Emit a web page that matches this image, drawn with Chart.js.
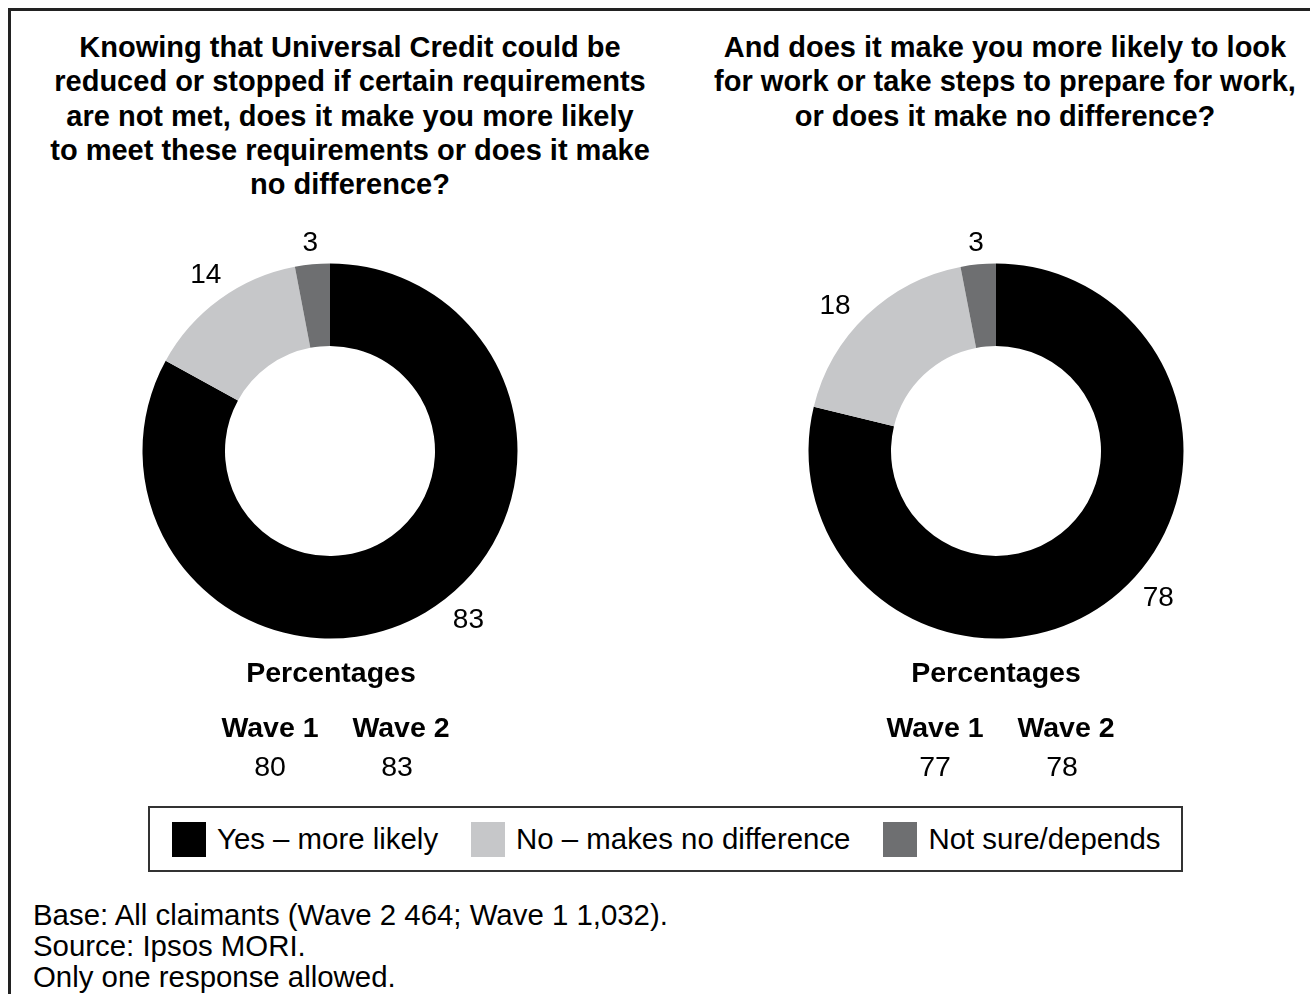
<!DOCTYPE html>
<html>
<head>
<meta charset="utf-8">
<script src="https://cdn.jsdelivr.net/npm/chart.js@4.4.1/dist/chart.umd.min.js"></script>
<style>
  body { margin: 0; background: #fff; font-family: "Liberation Sans", Arial, sans-serif; color: #000; }
  #page { position: relative; width: 1310px; height: 994px; overflow: hidden; }
  #frame { position: absolute; left: 8px; top: 8px; right: -10px; bottom: -10px;
           border-top: 3px solid #222; border-left: 3px solid #222; }
  .title { position: absolute; font-weight: bold; font-size: 29px; line-height: 34.3px;
           text-align: center; white-space: nowrap; }
  .donut { position: absolute; }
  .txt { position: absolute; white-space: nowrap; transform: translate(-50%, -50%); }
  .bold { font-weight: bold; }
  #legend { position: absolute; left: 148px; top: 806px; width: 1009px; height: 62px;
            border: 2px solid #333; display: flex; align-items: center; padding-left: 22px;
            box-sizing: content-box; font-size: 29.4px; white-space: nowrap; }
  #legend .item { display: flex; align-items: center; margin-right: 33px; flex-shrink: 0; }
  #legend .sw { width: 34px; height: 35px; margin-right: 11px; flex-shrink: 0; }
  #notes { position: absolute; left: 33px; top: 899px; font-size: 29.4px; line-height: 31px; }
</style>
</head>
<body>
<div id="page">
  <div id="frame"></div>

  <div class="title" style="left:30px; width:640px; top:30px;">
    Knowing that Universal Credit could be<br>
    reduced or stopped if certain requirements<br>
    are not met, does it make you more likely<br>
    to meet these requirements or does it make<br>
    no difference?
  </div>
  <div class="title" style="left:705px; width:600px; top:30px;">
    And does it make you more likely to look<br>
    for work or take steps to prepare for work,<br>
    or does it make no difference?
  </div>

  <canvas id="chart-requirements" class="donut" width="500" height="480" style="left:80px; top:211px;"></canvas>
  <canvas id="chart-work" class="donut" width="500" height="480" style="left:746px; top:211px;"></canvas>

  <div id="summary"></div>

  <div id="legend"></div>

  <div id="notes">
    Base: All claimants (Wave 2 464; Wave 1 1,032).<br>
    Source: Ipsos MORI.<br>
    Only one response allowed.
  </div>
</div>

<script>
// Réponses (en %)
const categories = ['Yes – more likely', 'No – makes no difference', 'Not sure/depends'];
const requirementsWave2 = [83, 14, 3];
const workWave2 = [78, 18, 3];
const sliceColors = ['#000000', '#c6c7c9', '#6e6f71'];

// Tableau récapitulatif sous chaque anneau
const waveLabels = ['Wave 1', 'Wave 2'];
const requirementsByWave = [80, 83];
const workByWave = [77, 78];

// Étiquettes de valeur placées à l'extérieur de chaque part
const sliceLabels = {
  id: 'sliceLabels',
  afterDatasetsDraw(chart, args, opts) {
    const ctx = chart.ctx;
    const meta = chart.getDatasetMeta(0);
    const values = chart.data.datasets[0].data;
    ctx.save();
    ctx.font = '28px "Liberation Sans", Arial, sans-serif';
    ctx.fillStyle = '#000';
    ctx.textAlign = 'center';
    ctx.textBaseline = 'middle';
    meta.data.forEach((arc, i) => {
      const p = arc.getProps(['x', 'y', 'startAngle', 'endAngle', 'outerRadius'], true);
      const nudge = ((opts.nudge && opts.nudge[i]) || 0) * Math.PI / 180;
      const mid = (p.startAngle + p.endAngle) / 2 + nudge;
      const text = String(values[i]);
      const w = ctx.measureText(text).width;
      const h = 20;
      const cx = Math.cos(mid), cy = Math.sin(mid);
      const dist = p.outerRadius + opts.gap + Math.abs(cx) * w / 2 + Math.abs(cy) * h / 2;
      ctx.fillText(text, p.x + cx * dist, p.y + cy * dist + 2);
    });
    ctx.restore();
  }
};

function drawDonut(canvasId, values, nudge) {
  const ctx = document.getElementById(canvasId).getContext('2d');
  new Chart(ctx, {
    type: 'doughnut',
    data: {
      labels: categories,
      datasets: [{
        data: values,
        backgroundColor: sliceColors,
        borderWidth: 0,
        hoverOffset: 0
      }]
    },
    options: {
      responsive: false,
      animation: false,
      cutout: '56%',
      layout: { padding: { left: 62.5, right: 62.5, top: 52.5, bottom: 52.5 } },
      plugins: {
        legend: { display: false },
        tooltip: { enabled: false },
        sliceLabels: { gap: 12, nudge: nudge }
      }
    },
    plugins: [sliceLabels]
  });
}

// Tableau Wave 1 / Wave 2 sous un anneau
function addSummary(centerX, top, values) {
  const box = document.getElementById('summary');
  const cols = [centerX - 61, centerX + 70];
  const valueCols = [centerX - 61, centerX + 66];
  let html = `<div class="txt bold" style="left:${centerX}px; top:${top}px; font-size:28.5px;">Percentages</div>`;
  waveLabels.forEach((label, i) => {
    html += `<div class="txt bold" style="left:${cols[i]}px; top:${top + 55}px; font-size:28.5px;">${label}</div>`;
    html += `<div class="txt" style="left:${valueCols[i]}px; top:${top + 94}px; font-size:28.5px;">${values[i]}</div>`;
  });
  box.insertAdjacentHTML('beforeend', html);
}

function buildLegend() {
  const legend = document.getElementById('legend');
  categories.forEach((name, i) => {
    const item = document.createElement('div');
    item.className = 'item';
    item.innerHTML = `<span class="sw" style="background:${sliceColors[i]}"></span><span>${name}</span>`;
    legend.appendChild(item);
  });
}

drawDonut('chart-requirements', requirementsWave2, [-9, 1, 0]);
drawDonut('chart-work', workWave2, [-10, -4, 0]);
addSummary(331, 672, requirementsByWave);
addSummary(996, 672, workByWave);
buildLegend();
</script>
</body>
</html>
